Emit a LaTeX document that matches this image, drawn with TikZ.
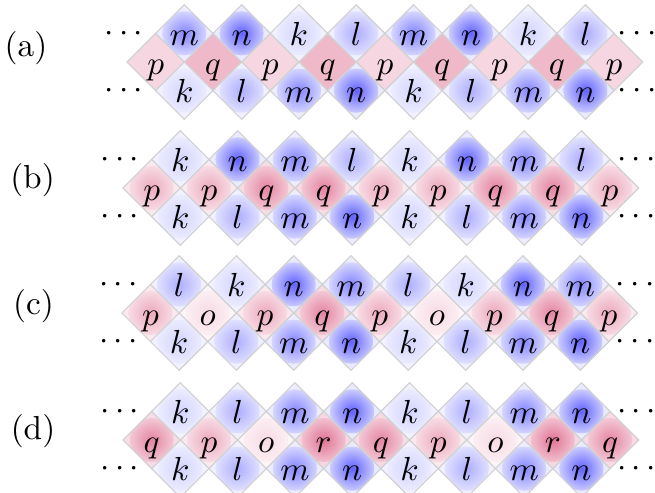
\documentclass[tikz,border=0pt]{standalone}
\usetikzlibrary{shapes.geometric}
\definecolor{pk}{RGB}{210,50,100}
\tikzset{
  tile/.style={diamond, aspect=1, inner sep=0pt, outer sep=0pt, minimum width=17.19pt, minimum height=17.19pt, draw=gray!35, line width=0.35pt},
  sh/.style 2 args={tile, fill=#2, path picture={\shade[inner color=#1, outer color=#2] (path picture bounding box.center) circle (6.6pt);}},
  lettr/.style={anchor=base, inner sep=0pt},
  dotsn/.style={anchor=base, inner sep=0pt},
  tag/.style={anchor=base, inner sep=0pt},
  tb-k/.style={sh={blue!17}{blue!5}},
  tb-l/.style={sh={blue!32}{blue!6}},
  tb-m/.style={sh={blue!48}{blue!7}},
  tb-n/.style={sh={blue!62}{blue!8}},
  fa-p/.style={tile, fill=pk!20},
  fa-q/.style={tile, fill=pk!34},
  fs-o/.style={sh={pk!18}{pk!5}},
  fs-p/.style={sh={pk!42}{pk!10}},
  fs-q/.style={sh={pk!60}{pk!17}},
  fs-r/.style={sh={pk!68}{pk!19}},
}
% #1 name, #2 x0, #3 cy, #4 top, #5 middle, #6 bottom, #7 middle style prefix
\newcommand{\rowdiag}[7]{%
  \foreach \ltr [count=\i from 0] in {#5} {
    \node[#7-\ltr] (#1M\i) at ({#2+57.3*\i}, #3) {};
    \node[lettr] (#1MT\i) at ({#2+57.3*\i}, #3+12) {$\ltr$};
  }
  \foreach \ltr [count=\i from 0] in {#4} {
    \node[tb-\ltr] (#1T\i) at ({#2+28.65+57.3*\i}, #3-28.65) {};
    \node[lettr] (#1TT\i) at ({#2+28.65+57.3*\i}, #3-28.65+12) {$\ltr$};
  }
  \foreach \ltr [count=\i from 0] in {#6} {
    \node[tb-\ltr] (#1B\i) at ({#2+28.65+57.3*\i}, #3+28.65) {};
    \node[lettr] (#1BT\i) at ({#2+28.65+57.3*\i}, #3+28.65+12) {$\ltr$};
  }
  \node[dotsn] (#1DLT) at (#2-32, #3-29+8.3) {$\cdots$};
  \node[dotsn] (#1DLB) at (#2-32, #3+28+8.3) {$\cdots$};
  \node[dotsn] (#1DRT) at ({min(#2+57.3*8+26.5,637)}, #3-29+8.3) {$\cdots$};
  \node[dotsn] (#1DRB) at ({min(#2+57.3*8+26.5,637)}, #3+28+8.3) {$\cdots$};
}
\begin{document}
\begin{tikzpicture}[x=0.3pt, y=-0.3pt]
\useasboundingbox (0,0) rectangle (655,493);
\rowdiag{a}{155.7}{62}{m,n,k,l,m,n,k,l}{p,q,p,q,p,q,p,q,p}{k,l,m,n,k,l,m,n}{fa}
\rowdiag{b}{151.7}{188}{k,n,m,l,k,n,m,l}{p,p,q,q,p,p,q,q,p}{k,l,m,n,k,l,m,n}{fs}
\rowdiag{c}{150.5}{313}{l,k,n,m,l,k,n,m}{p,o,p,q,p,o,p,q,p}{k,l,m,n,k,l,m,n}{fs}
\rowdiag{d}{151.7}{440}{k,l,m,n,k,l,m,n}{q,p,o,r,q,p,o,r,q}{k,l,m,n,k,l,m,n}{fs}
\node[tag] (la) at (26,56.6) {(a)};
\node[tag] (lb) at (32.5,188.6) {(b)};
\node[tag] (lc) at (33.5,314.6) {(c)};
\node[tag] (ld) at (33,439.6) {(d)};
\end{tikzpicture}
\end{document}
